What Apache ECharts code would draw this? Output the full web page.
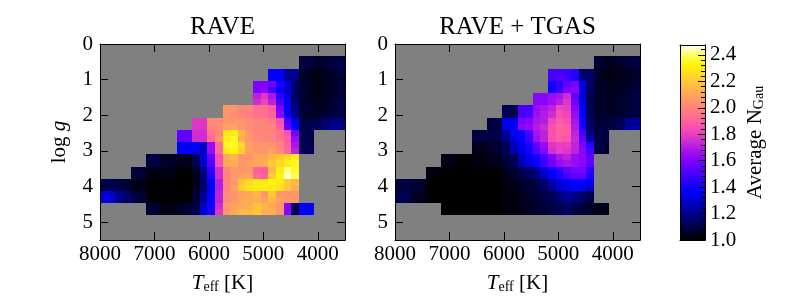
<!DOCTYPE html>
<html><head><meta charset="utf-8">
<script src="https://cdn.jsdelivr.net/npm/echarts@6/dist/echarts.min.js"></script>
<style>html,body{margin:0;padding:0;background:#fff}#c{width:800px;height:300px}</style>
</head><body><div id="c"></div>
<script>
// ---- data ----
const panelTitles = ['RAVE', 'RAVE + TGAS'];
const teffRange = [3500, 8000];
const loggRange = [0, 5.5];
const nCols = 32, nRows = 32;
const firstRow = 2;               // first non-empty logg row
const colorRange = [1.0, 2.475];

// first filled column of each row (rows 2..27)
const raveStart = [26,26,22,22,20,20,20,20,16,16,12,12,10,10,10,10,6,6,4,4,0,0,0,0,6,6];
const tgasStart = [26,26,20,20,20,20,18,18,14,14,12,12,10,10,10,10,6,6,4,4,0,0,0,0,6,6];

// average N_Gau per cell (RAVE)
const raveVals = [
 [1.08,1.10,1.06,1.08,1.08,1.10],
 [1.10,1.08,1.05,1.08,1.10,1.12],
 [1.37,1.37,1.22,1.22,1.05,1.04,1.03,1.05,1.06,1.08],
 [1.37,1.37,1.22,1.20,1.06,1.03,1.02,1.04,1.06,1.08],
 [1.60,1.60,1.58,1.42,1.32,1.15,1.08,1.05,1.03,1.04,1.06,1.08],
 [1.60,1.62,1.50,1.38,1.30,1.15,1.07,1.04,1.02,1.04,1.07,1.09],
 [1.72,1.78,1.68,1.45,1.33,1.14,1.08,1.05,1.03,1.04,1.06,1.08],
 [1.75,1.82,1.72,1.50,1.35,1.16,1.07,1.05,1.04,1.05,1.08,1.10],
 [2.05,2.05,2.00,2.00,1.95,1.95,1.88,1.60,1.37,1.20,1.08,1.06,1.05,1.06,1.08,1.10],
 [2.05,2.03,2.00,1.98,1.95,1.95,1.90,1.62,1.38,1.20,1.08,1.06,1.06,1.08,1.10,1.12],
 [1.78,1.78,2.02,2.02,2.05,2.05,2.05,2.03,2.00,2.00,1.98,1.85,1.50,1.35,1.10,1.10,1.12,1.15,1.18,1.18],
 [1.78,1.78,2.00,2.03,2.08,2.08,2.05,2.03,2.00,2.00,2.00,1.88,1.55,1.37,1.10,1.12,1.14,1.16,1.20,1.20],
 [1.55,1.55,1.75,1.75,1.95,2.00,2.28,2.30,2.15,2.05,2.00,2.00,2.00,1.95,1.85,1.60,1.12,1.10],
 [1.55,1.55,1.75,1.75,1.92,2.05,2.32,2.35,2.12,2.05,2.02,2.00,2.00,1.95,1.88,1.65,1.12,1.10],
 [1.37,1.37,1.37,1.28,1.65,1.92,2.35,2.35,2.25,2.08,2.05,2.05,2.05,2.00,1.90,1.68,1.12,1.12],
 [1.37,1.37,1.35,1.28,1.65,1.92,2.30,2.33,2.22,2.08,2.05,2.05,2.08,2.02,1.92,1.72,1.12,1.12],
 [1.10,1.10,1.06,1.06,1.04,1.04,1.12,1.32,1.55,1.85,2.10,2.15,2.05,2.05,2.10,2.10,2.15,2.20,2.25,2.30],
 [1.10,1.10,1.06,1.06,1.04,1.04,1.12,1.30,1.52,1.85,2.10,2.12,2.05,2.08,2.10,2.12,2.20,2.25,2.30,2.35],
 [1.08,1.08,1.03,1.03,1.03,1.03,1.00,1.00,1.05,1.20,1.45,1.75,2.00,2.05,2.05,2.05,1.90,1.88,2.15,2.30,2.42,2.35],
 [1.08,1.08,1.03,1.02,1.02,1.02,1.00,1.00,1.04,1.18,1.42,1.75,2.00,2.05,2.08,2.10,1.92,1.90,2.20,2.32,2.45,2.38],
 [1.12,1.12,1.10,1.08,1.03,1.03,1.00,1.00,1.00,1.00,1.00,1.00,1.05,1.15,1.35,1.70,2.00,2.05,2.20,2.25,2.30,2.30,2.32,2.30,2.20,2.15],
 [1.12,1.12,1.10,1.08,1.03,1.03,1.00,1.00,1.00,1.00,1.00,1.00,1.05,1.15,1.35,1.70,2.00,2.08,2.22,2.28,2.30,2.32,2.30,2.28,2.18,2.12],
 [1.32,1.30,1.20,1.15,1.10,1.08,1.00,1.00,1.00,1.00,1.00,1.00,1.08,1.20,1.37,1.72,2.02,2.05,2.08,2.10,2.15,2.05,2.20,2.05,2.05,2.05],
 [1.32,1.30,1.20,1.15,1.10,1.08,1.00,1.00,1.00,1.00,1.00,1.00,1.08,1.22,1.38,1.72,2.02,2.05,2.10,2.12,2.12,2.08,2.15,2.08,2.05,2.05],
 [1.07,1.07,1.03,1.03,1.05,1.08,1.10,1.30,1.40,1.75,2.05,2.08,2.10,2.12,2.18,2.15,2.10,2.05,1.62,1.12,1.37,1.37],
 [1.07,1.07,1.03,1.03,1.05,1.08,1.12,1.32,1.42,1.78,2.05,2.10,2.15,2.15,2.20,2.12,2.12,2.05,1.62,1.12,1.37,1.37]
];

// average N_Gau per cell (RAVE + TGAS)
const tgasVals = [
 [1.08,1.05,1.05,1.07,1.08,1.10],
 [1.08,1.06,1.04,1.06,1.08,1.10],
 [1.50,1.50,1.48,1.45,1.15,1.15,1.06,1.04,1.03,1.04,1.05,1.06],
 [1.50,1.52,1.50,1.42,1.18,1.15,1.06,1.04,1.03,1.04,1.05,1.07],
 [1.42,1.45,1.55,1.60,1.35,1.15,1.06,1.05,1.04,1.05,1.06,1.08],
 [1.40,1.48,1.60,1.62,1.32,1.14,1.06,1.05,1.04,1.05,1.06,1.08],
 [1.62,1.62,1.65,1.68,1.75,1.55,1.32,1.12,1.06,1.05,1.05,1.06,1.08,1.10],
 [1.62,1.62,1.66,1.70,1.78,1.58,1.33,1.12,1.06,1.05,1.05,1.06,1.08,1.10],
 [1.12,1.12,1.50,1.50,1.65,1.68,1.72,1.82,1.80,1.62,1.35,1.12,1.06,1.05,1.05,1.06,1.08,1.10],
 [1.12,1.12,1.50,1.52,1.66,1.70,1.75,1.85,1.82,1.65,1.37,1.13,1.07,1.06,1.06,1.08,1.10,1.12],
 [1.10,1.10,1.35,1.35,1.60,1.62,1.68,1.70,1.82,1.88,1.85,1.68,1.40,1.15,1.08,1.08,1.10,1.12,1.20,1.22],
 [1.10,1.10,1.35,1.35,1.62,1.64,1.70,1.74,1.85,1.90,1.88,1.70,1.42,1.16,1.08,1.09,1.10,1.14,1.22,1.24],
 [1.10,1.10,1.10,1.12,1.22,1.35,1.38,1.50,1.68,1.72,1.85,1.90,1.88,1.72,1.50,1.18,1.10,1.10],
 [1.10,1.10,1.10,1.12,1.20,1.32,1.38,1.48,1.66,1.72,1.85,1.88,1.86,1.74,1.55,1.25,1.10,1.10],
 [1.04,1.04,1.06,1.08,1.12,1.28,1.35,1.42,1.55,1.65,1.78,1.80,1.80,1.72,1.60,1.45,1.10,1.08],
 [1.04,1.04,1.06,1.08,1.12,1.25,1.33,1.40,1.52,1.62,1.76,1.80,1.78,1.72,1.62,1.50,1.10,1.08],
 [1.02,1.02,1.00,1.00,1.02,1.02,1.04,1.05,1.10,1.12,1.28,1.35,1.40,1.50,1.60,1.68,1.72,1.65,1.62,1.55],
 [1.02,1.02,1.00,1.00,1.02,1.02,1.04,1.05,1.08,1.12,1.25,1.32,1.38,1.48,1.58,1.65,1.68,1.65,1.62,1.55],
 [1.02,1.02,1.00,1.00,1.00,1.00,1.00,1.00,1.00,1.00,1.05,1.08,1.12,1.15,1.20,1.32,1.38,1.45,1.55,1.60,1.60,1.45],
 [1.02,1.02,1.00,1.00,1.00,1.00,1.00,1.00,1.00,1.00,1.04,1.06,1.10,1.14,1.18,1.28,1.36,1.42,1.50,1.55,1.55,1.42],
 [1.10,1.10,1.08,1.06,1.00,1.00,1.00,1.00,1.00,1.00,1.00,1.00,1.00,1.00,1.02,1.04,1.06,1.08,1.10,1.15,1.25,1.32,1.35,1.38,1.38,1.35],
 [1.10,1.10,1.08,1.06,1.00,1.00,1.00,1.00,1.00,1.00,1.00,1.00,1.00,1.00,1.02,1.03,1.05,1.07,1.10,1.14,1.22,1.30,1.33,1.35,1.35,1.30],
 [1.12,1.12,1.05,1.05,1.00,1.00,1.00,1.00,1.00,1.00,1.00,1.00,1.00,1.00,1.02,1.02,1.04,1.06,1.08,1.10,1.12,1.18,1.22,1.20,1.15,1.12],
 [1.12,1.12,1.05,1.05,1.00,1.00,1.00,1.00,1.00,1.00,1.00,1.00,1.00,1.00,1.02,1.02,1.04,1.05,1.07,1.10,1.12,1.16,1.20,1.18,1.14,1.10],
 [1.00,1.00,1.00,1.00,1.00,1.00,1.00,1.00,1.02,1.02,1.04,1.05,1.06,1.08,1.10,1.12,1.15,1.12,1.08,1.06,1.04,1.04],
 [1.00,1.00,1.00,1.00,1.00,1.00,1.00,1.00,1.02,1.02,1.03,1.05,1.06,1.08,1.10,1.12,1.14,1.10,1.08,1.06,1.04,1.04]
];

// ---- style ----
const gnuplot2 = ['#000000','#000033','#000066','#000099','#0000cc','#0000ff','#2800ff','#5000ff','#7800ff','#9f0ff0',
  '#c729d6','#ef42bd','#ff5ca3','#ff758a','#ff8f70','#ffa857','#ffc23d','#ffdb24','#fff50a','#ffff60','#ffffff'];
const serif = 'Liberation Serif';
const black = '#000';

const dT = (teffRange[1] - teffRange[0]) / nCols;
const dG = (loggRange[1] - loggRange[0]) / nRows;

function buildCells(starts, vals) {
  const out = [];
  vals.forEach((row, r) => {
    const i = firstRow + r;
    row.forEach((v, k) => {
      const j = starts[r] + k;
      const tHi = teffRange[1] - j * dT;
      out.push([tHi, tHi - dT, loggRange[0] + i * dG, loggRange[0] + (i + 1) * dG, v]);
    });
  });
  return out;
}

function renderCell(params, api) {
  const a = api.coord([api.value(0), api.value(2)]);
  const b = api.coord([api.value(1), api.value(3)]);
  const x0 = Math.round(Math.min(a[0], b[0])), x1 = Math.round(Math.max(a[0], b[0]));
  const y0 = Math.round(Math.min(a[1], b[1])), y1 = Math.round(Math.max(a[1], b[1]));
  return {type: 'rect', shape: {x: x0, y: y0, width: x1 - x0, height: y1 - y0},
          style: {fill: api.visual('color')}};
}

const richBase = {fontFamily: serif, color: black};
const subStyle = {fontFamily: serif, color: black, fontSize: 14, lineHeight: 14, padding: [10, 0, 0, 0], verticalAlign: 'bottom'};

function teffAxis(grid, pos, show, name) {
  const ax = {
    type: 'value', gridIndex: grid, position: pos, inverse: true,
    min: teffRange[0], max: teffRange[1], splitNumber: 5, z: 5,
    axisLine: {show: true, onZero: false, lineStyle: {color: black, width: 1}},
    axisTick: {show: true, inside: true, length: 8, lineStyle: {color: black, width: 1}},
    axisLabel: {show: show, color: black, fontFamily: serif, fontSize: 21, margin: 4,
                formatter: v => (v % 1000 === 0 ? String(v) : '')},
    splitLine: {show: false}
  };
  if (name) {
    ax.name = name.text;
    ax.nameLocation = 'middle';
    ax.nameGap = name.gap;
    ax.nameTextStyle = name.style;
  }
  return ax;
}
function loggAxis(grid, pos, show, name) {
  const ax = {
    type: 'value', gridIndex: grid, position: pos, inverse: true,
    min: loggRange[0], max: loggRange[1], interval: 1, z: 5,
    axisLine: {show: true, onZero: false, lineStyle: {color: black, width: 1}},
    axisTick: {show: true, inside: true, length: 8, lineStyle: {color: black, width: 1}},
    axisLabel: {show: show, color: black, fontFamily: serif, fontSize: 21, margin: 7,
                formatter: v => (Number.isInteger(v) ? String(v) : '')},
    splitLine: {show: false}
  };
  if (name) {
    ax.name = name.text;
    ax.nameLocation = 'middle';
    ax.nameGap = name.gap;
    ax.nameTextStyle = name.style;
  }
  return ax;
}

const teffName = {text: '{it|T}{sub|eff}{n| [K]}', gap: 24,
  style: {fontFamily: serif, fontSize: 21, color: black,
    rich: {it: Object.assign({fontSize: 21, fontStyle: 'italic'}, richBase), n: Object.assign({fontSize: 21}, richBase), sub: subStyle}}};
const loggName = {text: '{n|log }{it|g}', gap: 30,
  style: {fontFamily: serif, fontSize: 21, color: black,
    rich: {it: Object.assign({fontSize: 21, fontStyle: 'italic'}, richBase), n: Object.assign({fontSize: 21}, richBase)}}};
const titleStyle = t => ({text: t, gap: 4, style: {fontFamily: serif, fontSize: 25, color: black}});

const grids = [
  {left: 100, top: 44, width: 245, height: 196},
  {left: 395, top: 44, width: 245, height: 196},
  {left: 680, top: 45, width: 25, height: 195}
].map(g => Object.assign({show: true, backgroundColor: '#808080', borderWidth: 0, containLabel: false}, g));
grids[2].backgroundColor = 'transparent';

const plainAxis = (grid, pos) => ({
  type: 'value', gridIndex: grid, position: pos, min: 0, max: 1, z: 5,
  axisLine: {show: true, onZero: false, lineStyle: {color: black, width: 1}},
  axisTick: {show: false}, axisLabel: {show: false}, splitLine: {show: false}
});

const xAxes = [
  teffAxis(0, 'bottom', true, teffName),
  teffAxis(0, 'top', false, titleStyle(panelTitles[0])),
  teffAxis(1, 'bottom', true, teffName),
  teffAxis(1, 'top', false, titleStyle(panelTitles[1])),
  plainAxis(2, 'bottom'),
  plainAxis(2, 'top')
];
const cbarAxisBase = {
  type: 'value', gridIndex: 2, position: 'right', min: colorRange[0], max: colorRange[1], z: 5,
  axisLine: {show: true, onZero: false, lineStyle: {color: black, width: 1}},
  splitLine: {show: false}
};
const yAxes = [
  loggAxis(0, 'left', true, loggName),
  loggAxis(0, 'right', false),
  loggAxis(1, 'left', true),
  loggAxis(1, 'right', false),
  Object.assign({}, plainAxis(2, 'left')),
  Object.assign({}, cbarAxisBase, {
    interval: 0.2,
    axisTick: {show: true, inside: true, length: 7, lineStyle: {color: black, width: 1}},
    axisLabel: {show: true, showMaxLabel: false, color: black, fontFamily: serif, fontSize: 21, margin: 5,
                formatter: v => (v <= 2.41 ? v.toFixed(1) : '')},
    name: '{n|Average N}{sub|Gau}', nameLocation: 'middle', nameGap: 40, nameRotate: 90,
    nameTextStyle: {fontFamily: serif, fontSize: 21, color: black,
      rich: {n: Object.assign({fontSize: 21}, richBase), sub: subStyle}}
  }),
  Object.assign({}, cbarAxisBase, {
    interval: 0.04,
    axisTick: {show: true, inside: true, length: 4, lineStyle: {color: black, width: 1}},
    axisLabel: {show: false}
  })
];

const chart = echarts.init(document.getElementById('c'));
chart.setOption({
  animation: false,
  backgroundColor: '#fff',
  grid: grids,
  xAxis: xAxes,
  yAxis: yAxes,
  visualMap: {
    show: false, type: 'continuous', min: colorRange[0], max: colorRange[1],
    dimension: 4, seriesIndex: [0, 1], inRange: {color: gnuplot2}
  },
  series: [
    {type: 'custom', name: panelTitles[0], xAxisIndex: 0, yAxisIndex: 0, renderItem: renderCell,
     encode: {x: [0, 1], y: [2, 3]}, data: buildCells(raveStart, raveVals), clip: true},
    {type: 'custom', name: panelTitles[1], xAxisIndex: 2, yAxisIndex: 2, renderItem: renderCell,
     encode: {x: [0, 1], y: [2, 3]}, data: buildCells(tgasStart, tgasVals), clip: true},
    {type: 'custom', name: 'colorbar', xAxisIndex: 4, yAxisIndex: 5,
     data: [[0.5, 1.5]], encode: {x: 0, y: 1},
     renderItem: (params, api) => {
       const cs = params.coordSys;
       const stops = gnuplot2.map((c, k) => ({offset: k / (gnuplot2.length - 1), color: c}));
       return {type: 'rect', shape: {x: cs.x, y: cs.y, width: cs.width, height: cs.height},
               style: {fill: new echarts.graphic.LinearGradient(0, 1, 0, 0, stops)}};
     }}
  ]
});
</script></body></html>
